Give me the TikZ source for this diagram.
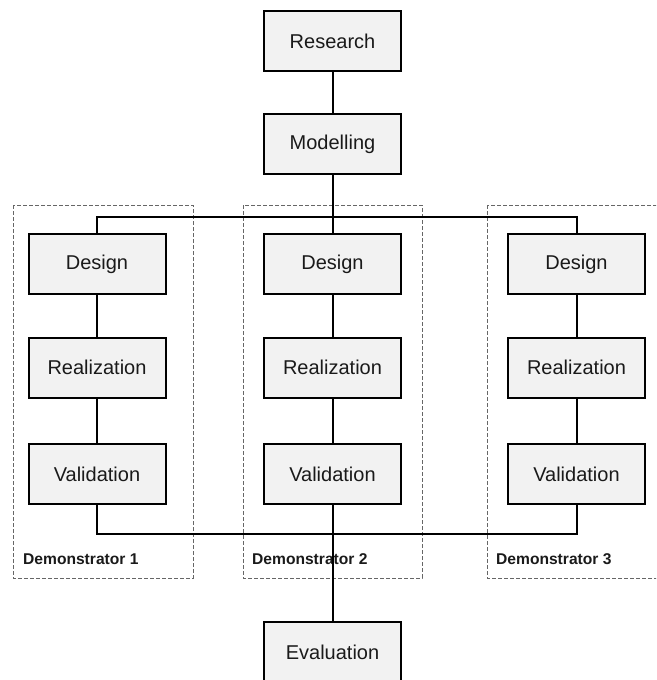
\documentclass[tikz,border=0pt]{standalone}
\usepackage{fontspec}
\setmainfont{Liberation Sans}
\definecolor{boxfill}{HTML}{F2F2F2}
\definecolor{txt}{HTML}{1A1A1A}
\definecolor{dash}{HTML}{666666}
\tikzset{
  stepbox/.style={draw=black, line width=2pt, fill=boxfill, minimum width=137pt, minimum height=60pt, inner sep=0pt, text=txt, font=\fontsize{20}{24}\selectfont},
  conn/.style={draw=black, line width=2pt},
  demobox/.style={draw=dash, line width=1pt, dash pattern=on 4pt off 2pt},
  demolabel/.style={anchor=west, inner sep=0pt, text=txt, font=\bfseries\fontsize{15.6}{18}\selectfont}
}
\begin{document}
\begin{tikzpicture}[x=1pt,y=1pt]
\useasboundingbox (0,0) rectangle (656,-680);
\clip (0,0) rectangle (656,-680);
% demonstrator frames
\draw[demobox] (13,-205) rectangle (193,-578);
\draw[demobox] (243,-205) rectangle (422,-578);
\draw[demobox] (487,-205) rectangle (667,-578);
\node[demolabel] (l1) at (23,-559) {Demonstrator 1};
\node[demolabel] (l2) at (252,-559) {Demonstrator 2};
\node[demolabel] (l3) at (496,-559) {Demonstrator 3};
% boxes
\node[stepbox] (research) at (332.5,-41) {Research};
\node[stepbox] (model) at (332.5,-144) {Modelling};
\node[stepbox] (d1) at (97,-264) {Design};
\node[stepbox] (d2) at (332.5,-264) {Design};
\node[stepbox] (d3) at (576.5,-264) {Design};
\node[stepbox] (r1) at (97,-367.5) {Realization};
\node[stepbox] (r2) at (332.5,-367.5) {Realization};
\node[stepbox] (r3) at (576.5,-367.5) {Realization};
\node[stepbox] (v1) at (97,-474) {Validation};
\node[stepbox] (v2) at (332.5,-474) {Validation};
\node[stepbox] (v3) at (576.5,-474) {Validation};
\node[stepbox] (eval) at (332.5,-652) {Evaluation};
\coordinate (topbus) at (332.5,-217);
\coordinate (botbus) at (332.5,-534);
% connectors
\draw[conn] (research) -- (model);
\draw[conn] (model) -- (d2);
\draw[conn] (d1.north) |- (topbus) -| (d3.north);
\draw[conn] (d1) -- (r1);
\draw[conn] (r1) -- (v1);
\draw[conn] (d2) -- (r2);
\draw[conn] (r2) -- (v2);
\draw[conn] (d3) -- (r3);
\draw[conn] (r3) -- (v3);
\draw[conn] (v1.south) |- (botbus) -| (v3.south);
\draw[conn] (v2) -- (eval);
\end{tikzpicture}
\end{document}
